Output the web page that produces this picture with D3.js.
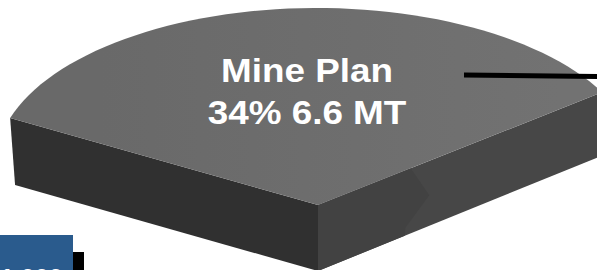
<!DOCTYPE html>
<html>
<head>
<meta charset="utf-8">
<script src="https://cdn.jsdelivr.net/npm/d3@7"></script>
<style>
  html, body { margin: 0; padding: 0; background: #fff; }
  svg { display: block; }
</style>
</head>
<body>
<script>
// one exploded slice of a 3D pie, seen from the front

var categories = ["Mine Plan", "Other"];
var shares = [34, 66];          // percent
var tonnes = [6.6, 12.8];       // MT
var boxLabel = "1 000";

var width = 597, height = 270;

// projected ellipse of the pie top and the slice tip
var ell = {cx: 317, cy: 163.7, rx: 321, ry: 155.7};
var tip = [318, 205];
var depth = 66;

var svg = d3.select("body").append("svg")
    .attr("width", width)
    .attr("height", height);

var grad = svg.append("defs").append("linearGradient")
    .attr("id", "topShade")
    .attr("gradientUnits", "userSpaceOnUse")
    .attr("x1", 100).attr("y1", 0).attr("x2", 560).attr("y2", 0);
grad.append("stop").attr("offset", 0).attr("stop-color", "#696969");
grad.append("stop").attr("offset", 1).attr("stop-color", "#727272");

var arcs = d3.pie().sort(null)(shares);
var slice = arcs[0];

// pie angle -> angle on the projected ellipse
var angle = d3.scaleLinear()
    .domain([slice.startAngle, slice.endAngle])
    .range([-162.93 * Math.PI / 180, -27.3 * Math.PI / 180]);

function rim(a) {
    var t = angle(a);
    return [ell.cx + ell.rx * Math.cos(t), ell.cy + ell.ry * Math.sin(t)];
}
function down(p) {
    // vertical edges lean a little toward the tip
    return [p[0] + (tip[0] - p[0]) * 0.016, p[1] + depth + (tip[0] - p[0]) * 0.003];
}
function lerp(a, b, t) {
    return [a[0] + (b[0] - a[0]) * t, a[1] + (b[1] - a[1]) * t];
}

var n = 60;
var rimPts = d3.range(n + 1).map(function (i) {
    return rim(slice.startAngle + (slice.endAngle - slice.startAngle) * i / n);
});
var left = rimPts[0], right = rimPts[n];

var line = d3.line();

// left side face
svg.append("path")
    .attr("d", line([left, tip, down(tip), down(left)]) + "Z")
    .attr("fill", "#303030");

// right side face, two shading facets split by a zigzag
var rTop = lerp(tip, right, 0.326), rBot = lerp(down(tip), down(right), 0.31);
var zig = [rTop, lerp(rTop, rBot, 0.4).map(function (v, i) { return i ? v : v + 21; }), lerp(rTop, rBot, 0.88), rBot];
svg.append("path")
    .attr("d", line([tip, right, down(right), down(tip)]) + "Z")
    .attr("fill", "#474747");
svg.append("path")
    .attr("d", line([tip].concat(zig, [down(tip)])) + "Z")
    .attr("fill", "#424242");

// top face
svg.append("path")
    .attr("d", line([tip].concat(rimPts)) + "Z")
    .attr("fill", "url(#topShade)");

// leader line
svg.append("line")
    .attr("x1", 464).attr("y1", 75)
    .attr("x2", 597).attr("y2", 76.5)
    .attr("stroke", "#000")
    .attr("stroke-width", 5);

// label
var label = svg.append("g")
    .attr("transform", "translate(307,0) scale(1.1,1)")
    .attr("fill", "#fff")
    .style("font-family", "'Liberation Sans', Arial, sans-serif")
    .style("font-weight", "bold")
    .style("font-size", "33.5px")
    .attr("text-anchor", "middle");
label.append("text").attr("y", 82).text(categories[0]);
label.append("text").attr("y", 124).text(shares[0] + "% " + tonnes[0] + " MT");

// box peeking in at the bottom left
svg.append("rect").attr("x", 73).attr("y", 252).attr("width", 11).attr("height", 18).attr("fill", "#000");
svg.append("rect").attr("x", 0).attr("y", 235).attr("width", 73).attr("height", 35).attr("fill", "#2a5b8d");
svg.append("text")
    .attr("x", 0).attr("y", 287)
    .attr("fill", "#fff")
    .style("font-family", "'Liberation Sans', Arial, sans-serif")
    .style("font-weight", "bold")
    .style("font-size", "25px")
    .text(boxLabel);
</script>
</body>
</html>
